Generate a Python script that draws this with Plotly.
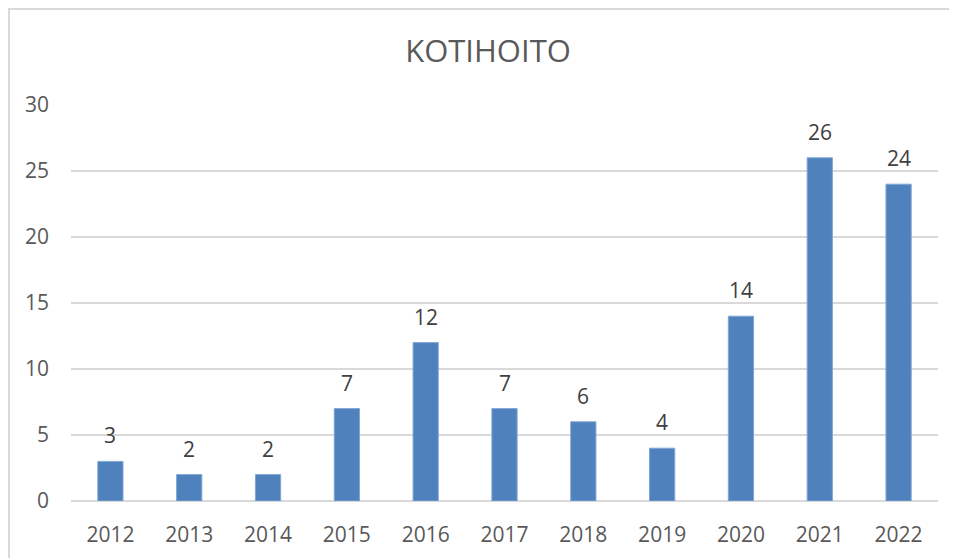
import plotly.graph_objects as go

years = ["2012", "2013", "2014", "2015", "2016", "2017", "2018", "2019", "2020", "2021", "2022"]
values = [3, 2, 2, 7, 12, 7, 6, 4, 14, 26, 24]
y_ticks = [0, 5, 10, 15, 20, 25, 30]
title_text = "KOTIHOITO"

# page body has an 8px margin; work in screen pixels and offset
OFF = 8
W, H = 957 - OFF, 558 - OFF
L, R, T, B = 71 - OFF, 957 - 938, 105 - OFF, 558 - 501
pw, ph = W - L - R, H - T - B

def px_to_paper_x(px):
    return (px - L) / pw

def px_to_paper_y(py):
    return (H - B - py) / ph

FONT = "Open Sans"

fig = go.Figure()
fig.add_trace(go.Bar(
    x=years, y=values,
    marker=dict(color="#4F81BD", line=dict(color="#7FA6D6", width=1)),
    width=0.32,
    hoverinfo="x+y",
))

for i, v in enumerate(values):
    fig.add_annotation(x=i, y=v, text=str(v), showarrow=False,
                       yanchor="bottom", yshift=10,
                       font=dict(family=FONT, size=21, color="#404040"))

fig.add_shape(type="line", xref="paper", yref="paper",
              x0=px_to_paper_x(1), x1=px_to_paper_x(1),
              y0=px_to_paper_y(0), y1=px_to_paper_y(H + 5),
              line=dict(color="#D9D9D9", width=2))
fig.add_shape(type="line", xref="paper", yref="paper",
              x0=px_to_paper_x(0), x1=px_to_paper_x(W + 5),
              y0=px_to_paper_y(1), y1=px_to_paper_y(1),
              line=dict(color="#D9D9D9", width=2))

fig.update_layout(
    width=W, height=H,
    margin=dict(l=L, r=R, t=T, b=B, pad=0, autoexpand=False),
    paper_bgcolor="white", plot_bgcolor="white",
    showlegend=False,
    title=dict(text=title_text, x=(488 - OFF) / W, xanchor="center", xref="container",
               y=1 - (51 - OFF) / H, yanchor="middle", yref="container",
               font=dict(family=FONT, size=31, color="#595959")),
    xaxis=dict(type="category", showgrid=False, zeroline=False, showline=False,
               ticks="", tickfont=dict(family=FONT, size=21, color="#595959"),
               ticklabelstandoff=19, range=[-0.5, len(years) - 0.5]),
    yaxis=dict(range=[0, 30], tickvals=y_ticks, showgrid=True, gridcolor="#D9D9D9",
               gridwidth=2, zeroline=True, zerolinecolor="#D9D9D9", zerolinewidth=2,
               showline=False, ticks="",
               tickfont=dict(family=FONT, size=21, color="#595959"),
               ticklabelstandoff=21),
    font=dict(family=FONT),
)

fig.write_html("out.html")
